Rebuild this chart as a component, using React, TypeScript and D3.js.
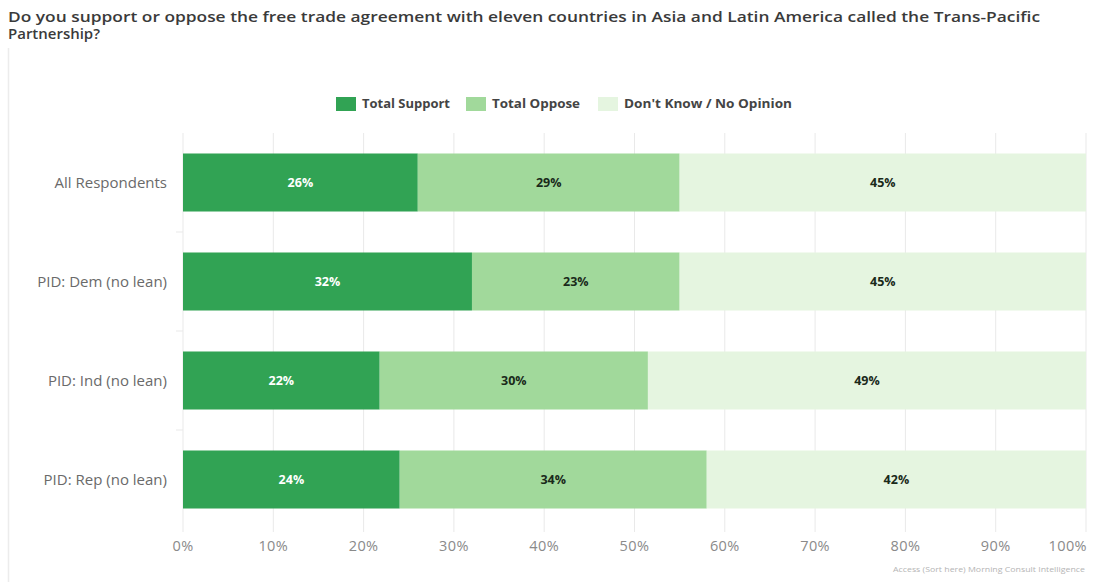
import React from "react";
import * as d3 from "d3";

const categories = ["All Respondents", "PID: Dem (no lean)", "PID: Ind (no lean)", "PID: Rep (no lean)"];
const seriesNames = ["Total Support", "Total Oppose", "Don't Know / No Opinion"];
const support = [26, 32, 22, 24];
const oppose = [29, 23, 30, 34];
const dontKnow = [45, 45, 49, 42];
const xTicks = [0, 0.1, 0.2, 0.3, 0.4, 0.5, 0.6, 0.7, 0.8, 0.9, 1];
const colors = ["#31a354", "#a1d99b", "#e5f5e0"];
const labelColors = ["#ffffff", "#1a2a1a", "#1a2a1a"];
const titleLines = [
  "Do you support or oppose the free trade agreement with eleven countries in Asia and Latin America called the Trans-Pacific",
  "Partnership?",
];
const sourceText = "Access (Sort here) Morning Consult Intelligence";

const W = 1100;
const H = 582;
const FONT = "'Open Sans', Lato, sans-serif";

export default function App() {
  const rows = categories.map((c, i) => ({ cat: c, s0: support[i], s1: oppose[i], s2: dontKnow[i] }));
  const stack = d3.stack<any>().keys(["s0", "s1", "s2"]).offset(d3.stackOffsetExpand);
  const layers = stack(rows);

  const x = d3.scaleLinear().domain([0, 1]).range([183, 1086]);
  const y = d3.scaleBand().domain(categories).range([133, 529]).paddingInner(0.414).paddingOuter(0.207);

  const legendItems = [
    { x: 336, w: 88 },
    { x: 466, w: 88 },
    { x: 598, w: 168 },
  ];

  return (
    <svg width={W} height={H} style={{ position: "absolute", left: 0, top: 0 }} fontFamily={FONT}>
      <rect width={W} height={H} fill="#fff" />
      <line x1={8.5} x2={8.5} y1={48} y2={H} stroke="#ececec" strokeWidth={1.5} />
      <text x={8} y={22} fontSize={14} fontWeight={600} fill="#3a3a3a" textLength={1032} lengthAdjust="spacingAndGlyphs">
        {titleLines[0]}
      </text>
      <text x={8} y={39} fontSize={14} fontWeight={600} fill="#3a3a3a" textLength={92} lengthAdjust="spacingAndGlyphs">
        {titleLines[1]}
      </text>
      {/* legend */}
      {seriesNames.map((n, i) => (
        <g key={n}>
          <rect x={legendItems[i].x} y={97} width={20} height={14} fill={colors[i]} />
          <text
            x={legendItems[i].x + 26}
            y={108}
            fontSize={11.5}
            fontWeight={700}
            fill="#444"
            textLength={legendItems[i].w}
            lengthAdjust="spacingAndGlyphs"
          >
            {n}
          </text>
        </g>
      ))}
      {/* gridlines */}
      {xTicks.map((t) => (
        <line key={t} x1={x(t)} x2={x(t)} y1={133} y2={532} stroke="#e9e9e9" strokeWidth={1} />
      ))}
      {/* category separators */}
      {categories.slice(1).map((c) => {
        const yy = (y(c) as number) - (y.step() * y.paddingInner()) / 2;
        return <line key={c} x1={176} x2={183} y1={yy} y2={yy} stroke="#e9e9e9" />;
      })}
      {/* bars */}
      {layers.map((layer, li) => (
        <g key={li}>
          {layer.map((d: any, i: number) => (
            <g key={i}>
              <rect
                x={x(d[0])}
                y={y(categories[i])}
                width={x(d[1]) - x(d[0])}
                height={y.bandwidth()}
                fill={colors[li]}
              />
              <text
                x={(x(d[0]) + x(d[1])) / 2}
                y={(y(categories[i]) as number) + y.bandwidth() / 2 + 4.5}
                textAnchor="middle"
                fontSize={12.5}
                fontWeight={700}
                fill={labelColors[li]}
              >
                {[support, oppose, dontKnow][li][i]}%
              </text>
            </g>
          ))}
        </g>
      ))}
      {/* category labels */}
      {categories.map((c) => (
        <text
          key={c}
          x={167}
          y={(y(c) as number) + y.bandwidth() / 2 + 5}
          textAnchor="end"
          fontSize={15}
          fill="#6a6a6a"
        >
          {c}
        </text>
      ))}
      {/* x tick labels */}
      {xTicks.map((t, i) => (
        <text
          key={t}
          x={i === xTicks.length - 1 ? 1087 : x(t)}
          y={551}
          textAnchor={i === xTicks.length - 1 ? "end" : "middle"}
          fontSize={14.5}
          letterSpacing={0.4}
          fill="#8a8a8a"
        >
          {d3.format(".0%")(t)}
        </text>
      ))}
      <text x={1085} y={572} textAnchor="end" fontSize={7.5} fill="#b5b5b5" textLength={192} lengthAdjust="spacingAndGlyphs">
        {sourceText}
      </text>
    </svg>
  );
}
